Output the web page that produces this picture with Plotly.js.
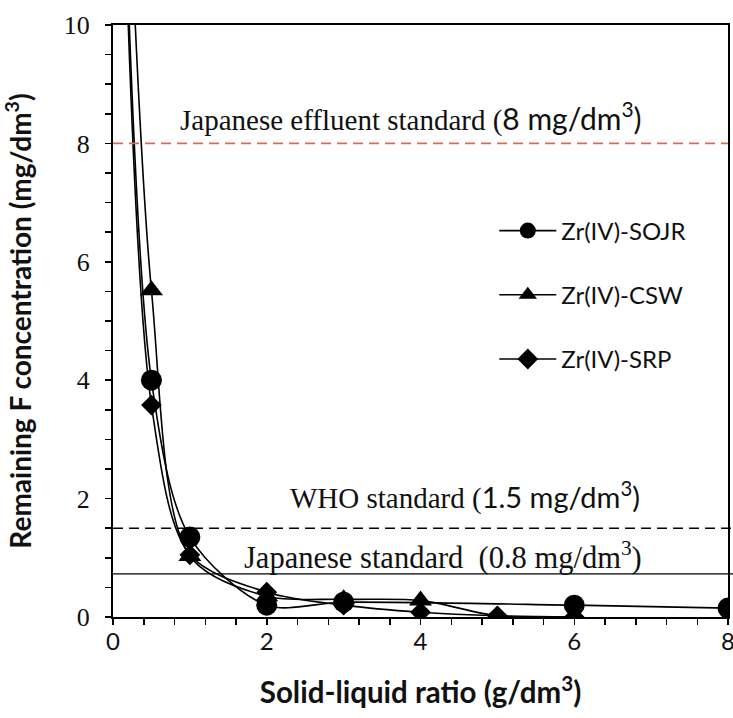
<!DOCTYPE html>
<html>
<head>
<meta charset="utf-8">
<script src="https://cdn.plot.ly/plotly-3.0.1.min.js"></script>
<style>
html,body{margin:0;padding:0;background:#fff;}
#chart{width:733px;height:718px;}
</style>
</head>
<body>
<div id="chart"></div>
<script>
// ---- data ----
const seriesNames = ['Zr(IV)-SOJR', 'Zr(IV)-CSW', 'Zr(IV)-SRP'];
const xSOJR = [0, 0.5, 1, 2, 3, 6, 8];
const ySOJR = [20, 4.0, 1.35, 0.2, 0.25, 0.2, 0.15];
const xCSW  = [0, 0.5, 1, 2, 3, 4, 5, 6];
const yCSW  = [20, 5.52, 1.03, 0.35, 0.3, 0.28, 0.02, 0];
const xSRP  = [0, 0.5, 1, 2, 3, 4, 5, 6];
const ySRP  = [20, 3.58, 1.05, 0.42, 0.2, 0.08, 0.02, 0];

// reference standards (mg/dm3)
const standardLevels = [8, 1.5, 0.73];
const standardLabels = [
  'Japanese effluent standard (<span style="font-family:Lato;font-size:30px">8 mg/dm<sup>3</sup>)</span>',
  'WHO standard (<span style="font-family:Lato;font-size:29px">1.5 mg/dm<sup>3</sup>)</span>',
  'Japanese standard&nbsp; (0.8 mg/dm<sup>3</sup>)'
];
const labelX = [0.85, 2.27, 1.68];
const labelY = [8.45, 2.05, 1.04];
const labelSize = [29, 29, 30.5];

const xTickVals = [0, 2, 4, 6, 8];
const yTickVals = [0, 2, 4, 6, 8, 10];

// ---- styling ----
const symbols = ['circle', 'triangle-up', 'diamond'];
const sizes = [21, 20, 16];
const xs = [xSOJR, xCSW, xSRP];
const ys = [ySOJR, yCSW, ySRP];

const traces = seriesNames.map((n, i) => ({
  type: 'scatter',
  mode: 'lines+markers',
  name: n,
  legendgroup: 'g' + i,
  x: xs[i],
  y: ys[i],
  line: {color: '#000', width: 1.6, shape: 'spline', smoothing: 0.85},
  marker: {symbol: symbols[i], size: sizes[i], color: '#000'},
  cliponaxis: true
}));

const lineStyles = [
  {color: '#dd6a55', width: 1.8, dash: '10px,6px'},
  {color: '#000', width: 1.5, dash: '10px,6px'},
  {color: '#000', width: 1.3, dash: 'solid'}
];
const lineEnds = [1.0, 1.01, 1.01];

const shapes = standardLevels.map((v, i) => ({
  type: 'line', xref: 'paper', yref: 'y',
  x0: 0, x1: lineEnds[i], y0: v, y1: v,
  line: lineStyles[i], layer: 'above'
}));

const annotations = standardLabels.map((t, i) => ({
  x: labelX[i], y: labelY[i], xref: 'x', yref: 'y',
  text: t, showarrow: false, xanchor: 'left', yanchor: 'middle',
  font: {family: 'Liberation Serif, Times New Roman, serif', size: labelSize[i], color: '#111'}
}));

const layout = {
  width: 733, height: 718,
  margin: {l: 113, r: 5, t: 25, b: 101},
  paper_bgcolor: '#fff', plot_bgcolor: '#fff',
  showlegend: true,
  legend: {
    x: 0.62, y: 0.69, xanchor: 'left', yanchor: 'top',
    bgcolor: 'rgba(0,0,0,0)', borderwidth: 0,
    font: {family: 'Lato, sans-serif', size: 24, color: '#111'},
    traceorder: 'grouped', tracegroupgap: 30, itemwidth: 57
  },
  xaxis: {
    range: [0, 8], tickvals: xTickVals, ticktext: xTickVals.map(String),
    showline: true, linecolor: '#000', linewidth: 2, mirror: true,
    ticks: 'outside', ticklen: 6, tickwidth: 1.5, tickcolor: '#000',
    minor: {dtick: 0.4, ticks: 'outside', ticklen: 6, tickwidth: 1.5, tickcolor: '#000', showgrid: false},
    showgrid: false, zeroline: false, ticklabeloverflow: 'allow', ticklabelstandoff: -4,
    tickfont: {family: 'Lato, sans-serif', size: 24, color: '#111'},
    title: {text: '<b>Solid-liquid ratio (g/dm<sup>3</sup>)</b>', font: {family: 'Lato, sans-serif', size: 29.5, color: '#111'}, standoff: 29}
  },
  yaxis: {
    range: [0, 10], tickvals: yTickVals, ticktext: yTickVals.map(String),
    showline: true, linecolor: '#000', linewidth: 2, mirror: true,
    ticks: 'outside', ticklen: 6, tickwidth: 1.5, tickcolor: '#000',
    minor: {dtick: 0.5, ticks: 'outside', ticklen: 6, tickwidth: 1.5, tickcolor: '#000', showgrid: false},
    showgrid: false, zeroline: false, ticklabelstandoff: 10,
    tickfont: {family: 'Liberation Serif, Times New Roman, serif', size: 26, color: '#111'},
    title: {text: '<b>Remaining F concentration (mg/dm<sup>3</sup>)</b>', font: {family: 'Lato, sans-serif', size: 28, color: '#111'}, standoff: 30}
  },
  shapes: shapes,
  annotations: annotations
};

Plotly.newPlot('chart', traces, layout, {displayModeBar: false, staticPlot: true});
</script>
</body>
</html>
